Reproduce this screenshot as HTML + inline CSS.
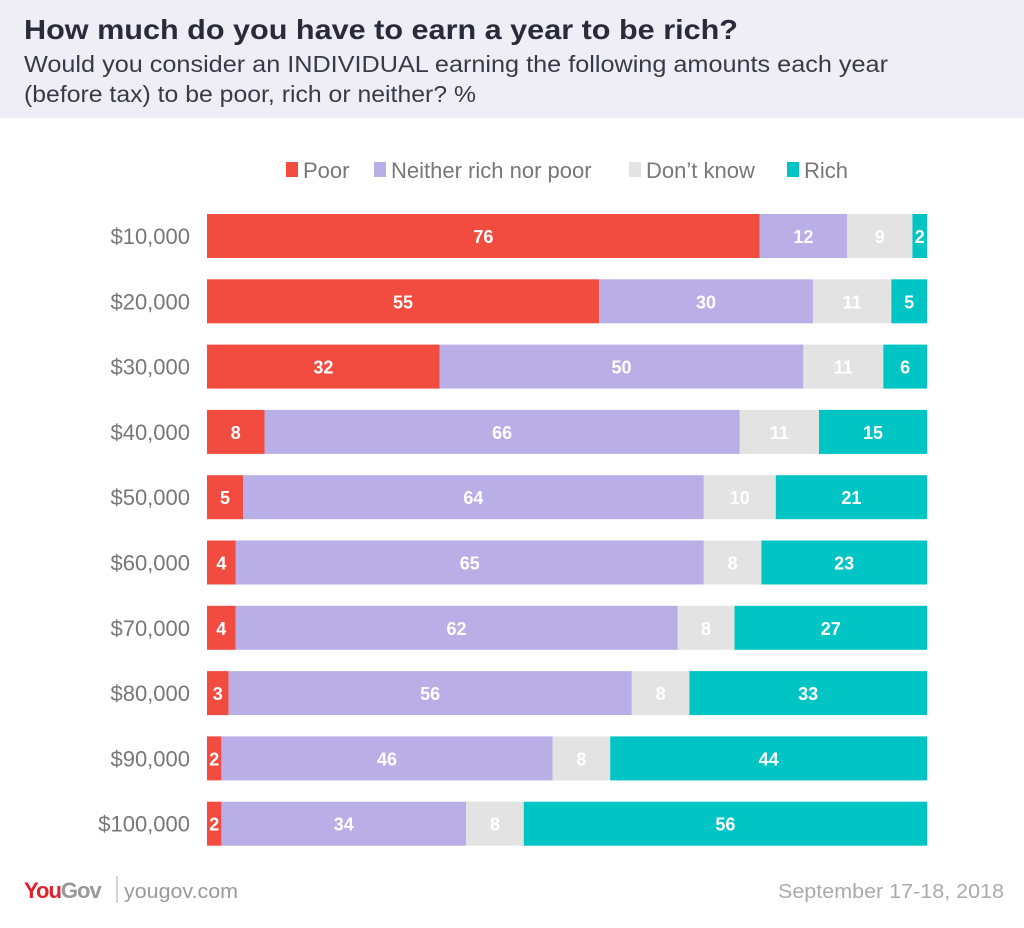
<!DOCTYPE html>
<html><head><meta charset="utf-8"><style>
body{margin:0;width:1024px;height:923px;background:#fff;overflow:hidden;font-family:"Liberation Sans",sans-serif}
</style></head><body>
<svg id="chart" width="1024" height="923" xmlns="http://www.w3.org/2000/svg">
<rect x="0" y="0" width="1024" height="118" fill="#efeef6"/>
<text x="24" y="39" font-size="28" font-weight="bold" fill="#2b2a3a" textLength="714" lengthAdjust="spacingAndGlyphs">How much do you have to earn a year to be rich?</text>
<text x="24" y="72" font-size="23" fill="#3a3948" textLength="864" lengthAdjust="spacingAndGlyphs">Would you consider an INDIVIDUAL earning the following amounts each year</text>
<text x="24" y="102" font-size="23" fill="#3a3948" textLength="452" lengthAdjust="spacingAndGlyphs">(before tax) to be poor, rich or neither? %</text>
<g id="legend"></g>
<g id="bars"></g>
<text x="24" y="898" font-size="22" font-weight="bold" fill="#e3202b" letter-spacing="-1">You<tspan fill="#999">Gov</tspan></text>
<line x1="117" y1="876" x2="117" y2="903" stroke="#aaa"/>
<text x="124" y="898" font-size="20" fill="#999" textLength="114" lengthAdjust="spacingAndGlyphs">yougov.com</text>
<text x="1004" y="898" font-size="20" fill="#aaa" text-anchor="end" textLength="226" lengthAdjust="spacingAndGlyphs">September 17-18, 2018</text>
</svg>
<script>
const categories=["$10,000","$20,000","$30,000","$40,000","$50,000","$60,000","$70,000","$80,000","$90,000","$100,000"];
const seriesNames=["Poor","Neither rich nor poor","Don’t know","Rich"];
const poor=[76,55,32,8,5,4,4,3,2,2];
const neither=[12,30,50,66,64,65,62,56,46,34];
const dontKnow=[9,11,11,11,10,8,8,8,8,8];
const rich=[2,5,6,15,21,23,27,33,44,56];
const colors=["#f24b40","#b9aee6","#e3e3e3","#00c5c4"];
const NS="http://www.w3.org/2000/svg";
const x0=207,x1=927,top0=214,step=65.3,bh=44;
function yPos(i){return top0+i*step;}
const series=[poor,neither,dontKnow,rich];
const bars=document.getElementById('bars');
categories.forEach((c,i)=>{
  const tot=series.reduce((s,a)=>s+a[i],0);
  const xs=v=>v/tot*(x1-x0);
  const y=yPos(i);
  const lab=document.createElementNS(NS,'text');
  
  
  lab.setAttribute('x',190);lab.setAttribute('y',y+bh/2+8);lab.setAttribute('text-anchor','end');
  lab.setAttribute('font-size','22');lab.setAttribute('fill','#777');lab.textContent=c;bars.appendChild(lab);
  let x=x0;
  series.forEach((s,k)=>{
    const w=xs(s[i]);
    const r=document.createElementNS(NS,'rect');
    
    
    r.setAttribute('x',x);r.setAttribute('y',y);r.setAttribute('width',w);r.setAttribute('height',bh);r.setAttribute('fill',colors[k]);
    bars.appendChild(r);
    const t=document.createElementNS(NS,'text');
    
    
    t.setAttribute('x',x+w/2);t.setAttribute('y',y+bh/2+7);t.setAttribute('text-anchor','middle');
    t.setAttribute('font-size','18');t.setAttribute('font-weight','bold');t.setAttribute('fill','#fff');
    t.textContent=s[i];bars.appendChild(t);
    x+=w;
  });
});
const legend=document.getElementById('legend');
const lx=[286,374,629,787];
seriesNames.forEach((n,k)=>{
  const r=document.createElementNS(NS,'rect');
  
  
  r.setAttribute('x',lx[k]);r.setAttribute('y',162);r.setAttribute('width',12);r.setAttribute('height',15);r.setAttribute('fill',colors[k]);
  legend.appendChild(r);
  const t=document.createElementNS(NS,'text');
  
  
  t.setAttribute('x',lx[k]+17);t.setAttribute('y',178);t.setAttribute('font-size','22');t.setAttribute('fill','#777');
  t.textContent=n;legend.appendChild(t);
});
</script>
</body></html>
